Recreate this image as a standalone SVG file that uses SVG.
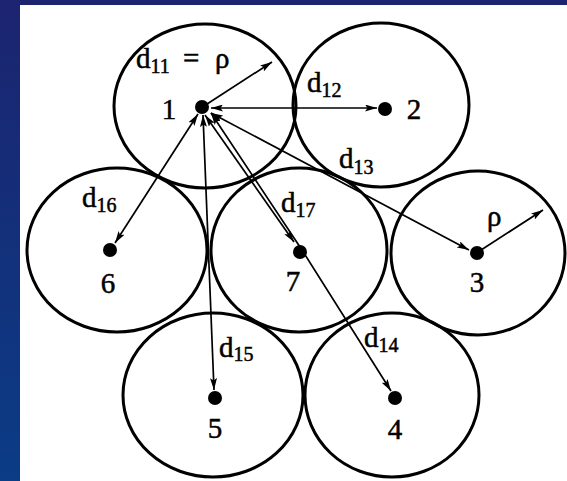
<svg xmlns="http://www.w3.org/2000/svg" width="567" height="481" viewBox="0 0 567 481">
<defs>
<linearGradient id="bg" x1="0" y1="0" x2="0" y2="1">
<stop offset="0" stop-color="#1c2470"/>
<stop offset="1" stop-color="#0b3c86"/>
</linearGradient>
<marker id="ah" viewBox="0 0 12 7" refX="12" refY="3.5" markerWidth="12" markerHeight="7" markerUnits="userSpaceOnUse" orient="auto-start-reverse">
<path d="M0,0 L12,3.5 L0,7 L2.5,3.5 z" fill="#000"/>
</marker>
<style>
.cell{fill:none;stroke:#000;stroke-width:3}
.dot{fill:#000}
.lab{font-family:"Liberation Serif","Times New Roman",serif;font-size:29px;fill:#000;stroke:#000;stroke-width:0.5}
.sub{font-size:20px}
.con{stroke:#000;stroke-width:1.7;fill:none}
</style>
</defs>
<rect x="0" y="0" width="567" height="481" fill="url(#bg)"/>
<rect x="20" y="5" width="547" height="476" fill="#fff"/>

<g id="cell1"><ellipse class="cell" cx="205" cy="106" rx="91" ry="82"/><circle class="dot" cx="202" cy="107" r="7"/><text class="lab" x="169" y="119" text-anchor="middle">1</text></g>
<g id="cell2"><ellipse class="cell" cx="381" cy="105" rx="88" ry="82"/><circle class="dot" cx="385" cy="109" r="7"/><text class="lab" x="414" y="119" text-anchor="middle">2</text></g>
<g id="cell3"><ellipse class="cell" cx="478" cy="253" rx="87" ry="82"/><circle class="dot" cx="477" cy="253" r="7"/><text class="lab" x="477" y="292" text-anchor="middle">3</text></g>
<g id="cell4"><ellipse class="cell" cx="392" cy="395" rx="87" ry="82"/><circle class="dot" cx="395" cy="398" r="7"/><text class="lab" x="395" y="439" text-anchor="middle">4</text></g>
<g id="cell5"><ellipse class="cell" cx="213" cy="395" rx="90" ry="82"/><circle class="dot" cx="215" cy="398" r="7"/><text class="lab" x="215" y="438" text-anchor="middle">5</text></g>
<g id="cell6"><ellipse class="cell" cx="117" cy="250" rx="90" ry="82"/><circle class="dot" cx="110" cy="250" r="7"/><text class="lab" x="108" y="293" text-anchor="middle">6</text></g>
<g id="cell7"><ellipse class="cell" cx="299" cy="250" rx="88" ry="82"/><circle class="dot" cx="300" cy="252" r="7"/><text class="lab" x="293" y="291" text-anchor="middle">7</text></g>

<g id="connectors">
<line class="con" x1="204" y1="106" x2="272" y2="62" marker-end="url(#ah)"/>
<line class="con" x1="211" y1="108" x2="377" y2="108" marker-start="url(#ah)" marker-end="url(#ah)"/>
<line class="con" x1="211" y1="113" x2="469" y2="250" marker-start="url(#ah)" marker-end="url(#ah)"/>
<line class="con" x1="478" y1="252" x2="543" y2="210" marker-end="url(#ah)"/>
<line class="con" x1="198" y1="114" x2="115" y2="243" marker-start="url(#ah)" marker-end="url(#ah)"/>
<line class="con" x1="203" y1="115" x2="214" y2="390" marker-start="url(#ah)" marker-end="url(#ah)"/>
<line class="con" x1="205" y1="115" x2="294" y2="242" marker-start="url(#ah)" marker-end="url(#ah)"/>
<polyline class="con" points="211,113 302,250 391,391" marker-start="url(#ah)" marker-end="url(#ah)"/>
</g>

<g id="labels">
<text class="lab" x="136" y="68">d<tspan class="sub" dy="5">11</tspan><tspan dy="-5" x="183">=</tspan><tspan x="215">ρ</tspan></text>
<text class="lab" x="307" y="92">d<tspan class="sub" dy="5">12</tspan></text>
<text class="lab" x="339" y="168">d<tspan class="sub" dy="6">13</tspan></text>
<text class="lab" x="281" y="212">d<tspan class="sub" dy="5">17</tspan></text>
<text class="lab" x="82" y="207">d<tspan class="sub" dy="5">16</tspan></text>
<text class="lab" x="219" y="357">d<tspan class="sub" dy="4">15</tspan></text>
<text class="lab" x="364" y="347">d<tspan class="sub" dy="5">14</tspan></text>
<text class="lab" x="487" y="226">ρ</text>
</g>
</svg>
